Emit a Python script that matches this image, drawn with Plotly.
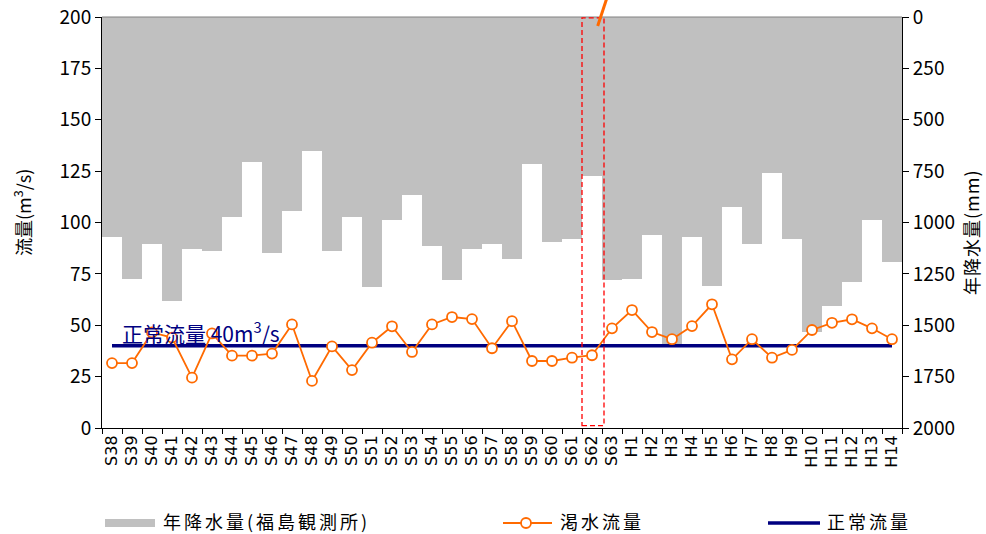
import plotly.graph_objects as go

# Fiscal years (Showa 38 .. Heisei 14)
years = ["S38", "S39", "S40", "S41", "S42", "S43", "S44", "S45", "S46", "S47",
         "S48", "S49", "S50", "S51", "S52", "S53", "S54", "S55", "S56", "S57",
         "S58", "S59", "S60", "S61", "S62", "S63", "H1", "H2", "H3", "H4",
         "H5", "H6", "H7", "H8", "H9", "H10", "H11", "H12", "H13", "H14"]

# Annual precipitation at Fukushima station (mm)
precip_mm = [1070, 1273, 1103, 1380, 1127, 1137, 972, 706, 1147, 942,
             652, 1137, 972, 1315, 986, 866, 1113, 1280, 1127, 1103,
             1176, 715, 1095, 1080, 774, 1280, 1273, 1061, 1600, 1071,
             1307, 925, 1103, 759, 1080, 1533, 1405, 1290, 988, 1192]

# Drought flow (m3/s)
drought_flow = [31.6, 31.6, 46.5, 44.0, 24.5, 46.0, 35.2, 35.2, 36.2, 50.4,
                22.9, 39.7, 28.2, 41.5, 49.5, 37.0, 50.4, 54.0, 53.0, 38.8,
                52.0, 32.6, 32.6, 34.2, 35.4, 48.5, 57.4, 46.7, 43.2, 49.6,
                60.2, 33.4, 43.2, 34.2, 38.0, 47.7, 51.2, 52.9, 48.5, 43.2]

normal_flow = 40
flow_ticks = [0, 25, 50, 75, 100, 125, 150, 175, 200]
precip_ticks = [0, 250, 500, 750, 1000, 1250, 1500, 1750, 2000]
highlight_year = "S62"

FONT = "Noto Sans CJK JP"
ORANGE = "#FF6A00"
NAVY = "#000080"
GRAY = "#C0C0C0"

# plot area in pixels (used to keep legend glyphs round/square)
PW, PH = 800, 411

fig = go.Figure()

fig.add_trace(go.Bar(
    x=years, y=precip_mm, yaxis="y", marker=dict(color=GRAY, line=dict(width=0)),
    name="年降水量(福島観測所)", showlegend=False))

fig.add_trace(go.Scatter(
    x=years, y=[normal_flow] * len(years), yaxis="y2", mode="lines",
    line=dict(color=NAVY, width=3.5), name="正常流量", showlegend=False))

fig.add_trace(go.Scatter(
    x=years, y=drought_flow, yaxis="y2", mode="lines+markers",
    line=dict(color=ORANGE, width=1.8),
    marker=dict(symbol="circle", size=10, color="white", line=dict(color=ORANGE, width=1.8)),
    name="渇水流量", showlegend=False))

hi = years.index(highlight_year)

shapes = [
    # top frame line
    dict(type="line", xref="paper", yref="paper", x0=0, x1=1, y0=1, y1=1,
         line=dict(color="#808080", width=1)),
    # highlighted year box
    dict(type="rect", xref="x", yref="y2", x0=hi - 0.5, x1=hi + 0.6, y0=1.2, y1=199.6,
         line=dict(color="#FF0000", width=1.3, dash="5px,3px")),
    # callout stroke leaving the top of the plot
    dict(type="line", xref="paper", yref="paper", x0=0.6196, y0=0.978, x1=0.6309, y1=1.045,
         line=dict(color=ORANGE, width=3)),
]

# legend drawn manually below the axis
def px_x(px):
    return (px - 102) / PW

def px_y(py):
    return (428 - py) / PH

leg_y = px_y(523)
text_y = px_y(520.5)
r_x, r_y = 5 / PW, 5 / PH
shapes += [
    dict(type="rect", xref="paper", yref="paper", x0=px_x(105), x1=px_x(155),
         y0=leg_y - 4 / PH, y1=leg_y + 4 / PH, fillcolor=GRAY, line=dict(width=0)),
    dict(type="line", xref="paper", yref="paper", x0=px_x(503), x1=px_x(552), y0=leg_y, y1=leg_y,
         line=dict(color=ORANGE, width=2)),
    dict(type="circle", xref="paper", yref="paper", x0=px_x(526) - r_x, x1=px_x(526) + r_x,
         y0=leg_y - r_y, y1=leg_y + r_y, fillcolor="white", line=dict(color=ORANGE, width=1.8)),
    dict(type="line", xref="paper", yref="paper", x0=px_x(768), x1=px_x(820), y0=leg_y, y1=leg_y,
         line=dict(color=NAVY, width=3.5)),
]


def spaced(text, px=2):
    return f'<span style="letter-spacing:{px}px">{text}</span>'


legend_font = dict(family=FONT, size=18, color="#000")
annotations = [
    dict(x=px_x(120), y=46.7, xref="paper", yref="y2", text="正常流量 40m<sup>3</sup>/s",
         showarrow=False, xanchor="left", yanchor="middle",
         font=dict(family=FONT, size=21, color=NAVY)),
    dict(x=px_x(161), y=text_y, xref="paper", yref="paper", text=spaced("年降水量(福島観測所)", 3),
         showarrow=False, xanchor="left", yanchor="middle", font=legend_font),
    dict(x=px_x(558), y=text_y, xref="paper", yref="paper", text=spaced("渇水流量", 3),
         showarrow=False, xanchor="left", yanchor="middle", font=legend_font),
    dict(x=px_x(825), y=text_y, xref="paper", yref="paper", text=spaced("正常流量", 3),
         showarrow=False, xanchor="left", yanchor="middle", font=legend_font),
    # axis titles
    dict(x=px_x(22), y=px_y(213), xref="paper", yref="paper",
         text="流量(m<sup>3</sup>/s)", textangle=-90, showarrow=False,
         xanchor="center", yanchor="middle", font=dict(family=FONT, size=18, color="#000")),
    dict(x=px_x(971), y=px_y(232), xref="paper", yref="paper",
         text=spaced("年降水量(mm)", 1), textangle=-90, showarrow=False,
         xanchor="center", yanchor="middle", font=dict(family=FONT, size=18, color="#000")),
]

fig.update_layout(
    width=986, height=534,
    margin=dict(l=102, r=84, t=17, b=106, autoexpand=False),
    paper_bgcolor="white", plot_bgcolor="white",
    bargap=0, showlegend=False,
    font=dict(family=FONT, size=17, color="#000"),
    xaxis=dict(type="category", tickson="boundaries", ticks="outside", ticklen=5,
               tickcolor="#000", showline=True, linecolor="#000", linewidth=1,
               tickangle=-90, tickfont=dict(family="DejaVu Sans", size=16), showgrid=False,
               range=[-0.5, len(years) - 0.5], automargin=False),
    yaxis=dict(side="right", range=[2000, 0], tickvals=precip_ticks, ticks="outside",
               ticklen=6, tickcolor="#000", showline=True, linecolor="#000", linewidth=1,
               showgrid=False, zeroline=False, tickfont=dict(family=FONT, size=19),
               automargin=False),
    yaxis2=dict(side="left", overlaying="y", range=[0, 200], tickvals=flow_ticks,
                ticks="outside", ticklen=6, tickcolor="#000", showline=True, linecolor="#000",
                linewidth=1, showgrid=False, zeroline=False, tickfont=dict(family=FONT, size=19),
                automargin=False),
    shapes=shapes,
    annotations=annotations,
)

fig.write_html("out.html")
